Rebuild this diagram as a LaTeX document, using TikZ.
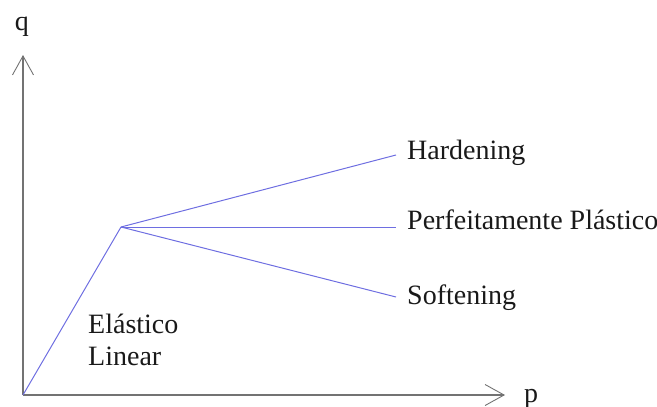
\documentclass[tikz,border=0pt]{standalone}
\usepackage{fontspec}
\setmainfont{Liberation Serif}
\usetikzlibrary{arrows.meta}
\begin{document}
\begin{tikzpicture}[x=1pt,y=-1pt,
  axis/.style={draw=black!55,line width=1.3pt,
    -{Straight Barb[length=19pt,width=21pt,line width=0.9pt]}},
  curve/.style={draw={rgb,255:red,110;green,110;blue,225},line width=1pt},
  lbl/.style={anchor=base west,inner sep=0pt,font=\fontsize{28}{32}\selectfont,text=black!90}]
  \useasboundingbox (0,0) rectangle (657,407);
  % axes
  \coordinate (O) at (23,395);
  \coordinate (qtip) at (23,55);
  \coordinate (ptip) at (505,395);
  \draw[axis] (O) -- (qtip);
  \draw[axis] (O) -- (ptip);
  \node[lbl,anchor=base] (q) at (22,30) {q};
  \node[lbl] (p) at (524,402) {p};
  % elastic branch and post-yield branches
  \coordinate (K) at (121,227);
  \coordinate (H) at (396,155);
  \coordinate (P) at (396,227);
  \coordinate (S) at (396,297);
  \draw[curve] (O) -- (K);
  \draw[curve] (K) -- (H);
  \draw[curve] (K) -- (P);
  \draw[curve] (K) -- (S);
  % labels
  \node[lbl] (hard) at (407,159) {Hardening};
  \node[lbl] (perf) at (407,229) {Perfeitamente Plástico};
  \node[lbl] (soft) at (407,304) {Softening};
  \node[lbl] (ela) at (88,333) {Elástico};
  \node[lbl] (lin) at (88,365) {Linear};
\end{tikzpicture}
\end{document}
